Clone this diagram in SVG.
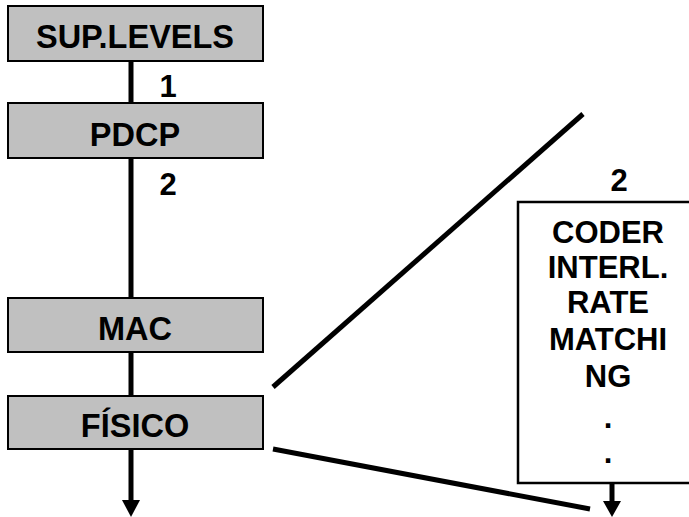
<svg xmlns="http://www.w3.org/2000/svg" width="689" height="517" viewBox="0 0 689 517">
<style>
.box{fill:#c0c0c0;stroke:#000;stroke-width:2}
.wbox{fill:#fff;stroke:#000;stroke-width:2.5}
.t{font-family:"Liberation Sans",Arial,sans-serif;font-weight:bold;font-size:31px;fill:#000;text-anchor:middle}
.big{font-size:32.5px}
.ln{stroke:#000;stroke-width:5;fill:none}
.ah{fill:#000}
</style>
<rect width="689" height="517" fill="#fff"/>
<g id="connectors">
<line class="ln" x1="131" y1="61" x2="131" y2="103"/>
<line class="ln" x1="131" y1="158" x2="131" y2="298"/>
<line class="ln" x1="131" y1="352" x2="131" y2="396"/>
<line class="ln" x1="131" y1="449" x2="131" y2="502"/>
<polygon class="ah" points="122,500 140,500 131,517"/>
<line class="ln" x1="273" y1="387" x2="583" y2="114"/>
<line class="ln" x1="273" y1="449" x2="590" y2="509"/>
<line class="ln" x1="612" y1="483" x2="612" y2="503"/>
<polygon class="ah" points="603,501 621,501 612,517"/>
<text class="t" x="168" y="97">1</text>
<text class="t" x="168" y="195">2</text>
<text class="t" x="619" y="191">2</text>
</g>
<g id="sup">
<rect class="box" x="8" y="6" width="255" height="55"/>
<text class="t big" x="135" y="48">SUP.LEVELS</text>
</g>
<g id="pdcp">
<rect class="box" x="8" y="103" width="255" height="55"/>
<text class="t big" x="135" y="146">PDCP</text>
</g>
<g id="mac">
<rect class="box" x="8" y="298" width="255" height="54"/>
<text class="t big" x="135" y="340">MAC</text>
</g>
<g id="fisico">
<rect class="box" x="8" y="396" width="255" height="53"/>
<text class="t big" x="135" y="437">FÍSICO</text>
</g>
<g id="coder">
<rect class="wbox" x="518" y="202" width="200" height="281"/>
<text class="t" x="608" y="243">CODER</text>
<text class="t" x="608" y="278">INTERL.</text>
<text class="t" x="608" y="313">RATE</text>
<text class="t" x="608" y="350">MATCHI</text>
<text class="t" x="608" y="387">NG</text>
<text class="t" x="608" y="428">.</text>
<text class="t" x="608" y="463">.</text>
</g>
</svg>
